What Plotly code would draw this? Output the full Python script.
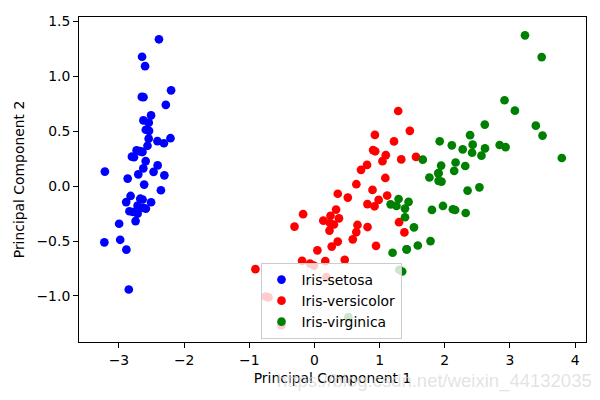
import plotly.graph_objects as go

setosa_x = [-2.684, -2.714, -2.889, -2.745, -2.729, -2.281, -2.821, -2.626, -2.886, -2.673,
            -2.507, -2.613, -2.786, -3.224, -2.645, -2.386, -2.624, -2.648, -2.200, -2.588,
            -2.310, -2.544, -3.216, -2.303, -2.356, -2.507, -2.469, -2.562, -2.640, -2.632,
            -2.587, -2.410, -2.649, -2.599, -2.637, -2.866, -2.625, -2.801, -2.981, -2.590,
            -2.770, -2.849, -2.997, -2.406, -2.209, -2.714, -2.538, -2.839, -2.543, -2.703]
setosa_y = [0.319, -0.177, -0.145, -0.318, 0.327, 0.741, -0.089, 0.163, -0.578, -0.114,
            0.645, 0.015, -0.235, -0.511, 1.179, 1.338, 0.811, 0.312, 0.873, 0.514,
            0.391, 0.433, 0.133, 0.099, -0.037, -0.146, 0.131, 0.368, 0.312, -0.197,
            -0.204, 0.411, 0.813, 1.093, -0.121, 0.069, 0.599, 0.269, -0.488, 0.229,
            0.264, -0.941, -0.342, 0.189, 0.437, -0.250, 0.504, -0.228, 0.579, 0.108]

versicolor_x = [1.285, 0.932, 1.464, 0.183, 1.088, 0.642, 1.095, -0.749, 1.044, -0.009,
                -0.508, 0.512, 0.265, 0.985, -0.174, 0.928, 0.660, 0.236, 0.945, 0.045,
                1.116, 0.358, 1.298, 0.922, 0.715, 0.900, 1.332, 1.558, 0.813, -0.306,
                -0.068, -0.190, 0.136, 1.380, 0.588, 0.807, 1.221, 0.815, 0.246, 0.166,
                0.465, 0.891, 0.231, -0.705, 0.357, 0.332, 0.376, 0.643, -0.906, 0.299]
versicolor_y = [0.685, 0.318, 0.504, -0.828, 0.075, -0.418, 0.283, -1.005, 0.228, -0.723,
                -1.266, -0.104, -0.550, -0.125, -0.255, 0.467, -0.353, -0.334, -0.543, -0.584,
                -0.085, -0.069, -0.328, -0.183, 0.149, 0.329, 0.244, 0.267, -0.163, -0.368,
                -0.705, -0.680, -0.314, -0.421, -0.484, 0.194, 0.408, -0.372, -0.269, -0.682,
                -0.671, -0.034, -0.404, -1.012, -0.505, -0.213, -0.293, 0.018, -0.756, -0.349]

virginica_x = [2.531, 1.415, 2.617, 1.972, 2.350, 3.397, 0.521, 2.933, 2.321, 2.917,
               1.662, 1.803, 2.166, 1.346, 1.586, 1.904, 1.950, 3.487, 3.796, 1.301,
               2.428, 1.199, 3.500, 1.389, 2.275, 2.614, 1.259, 1.291, 2.124, 2.388,
               2.842, 3.231, 2.159, 1.444, 1.781, 3.076, 2.144, 1.905, 1.169, 2.108,
               2.314, 1.922, 1.415, 2.563, 2.419, 1.944, 1.527, 1.764, 1.901, 1.390]
virginica_y = [-0.010, -0.575, 0.344, -0.180, -0.040, 0.551, -1.193, 0.356, -0.244, 0.783,
               0.242, -0.216, 0.216, -0.777, -0.540, 0.119, 0.042, 1.176, 0.257, -0.761,
               0.378, -0.606, 0.461, -0.204, 0.335, 0.561, -0.180, -0.117, -0.210, 0.465,
               0.375, 1.374, -0.217, -0.143, -0.500, 0.688, 0.140, 0.049, -0.165, 0.372,
               0.184, 0.409, -0.575, 0.278, 0.305, 0.188, -0.375, 0.079, 0.117, -0.283]

series = [
    ("Iris-setosa", setosa_x, setosa_y, "rgb(0,0,255)"),
    ("Iris-versicolor", versicolor_x, versicolor_y, "rgb(255,0,0)"),
    ("Iris-virginica", virginica_x, virginica_y, "rgb(0,128,0)"),
]

FONT = "DejaVu Sans"
fig = go.Figure()
for name, xs, ys, col in series:
    fig.add_trace(go.Scatter(x=xs, y=ys, mode="markers", name=name,
                             marker=dict(color=col, size=8.7, line=dict(width=0))))

axis_common = dict(showline=True, mirror=True, linecolor="black", linewidth=1,
                   ticks="outside", ticklen=5, tickwidth=1, tickcolor="black",
                   showgrid=False, zeroline=False,
                   tickfont=dict(family=FONT, size=13.9, color="black"))

fig.update_layout(
    width=600, height=400,
    margin=dict(l=78.5, r=14.3, t=17, b=58),
    paper_bgcolor="white", plot_bgcolor="white",
    font=dict(family=FONT, size=13.9, color="black"),
    xaxis=dict(range=[-3.613, 4.167], dtick=1, tick0=0,
               title=dict(text="Principal Component 1", standoff=6,
                          font=dict(family=FONT, size=13.9, color="black")),
               **axis_common),
    yaxis=dict(range=[-1.419, 1.541], dtick=0.5, tick0=0, tickformat=".1f",
               title=dict(text="Principal Component 2", standoff=8,
                          font=dict(family=FONT, size=13.9, color="black")),
               **axis_common),
    legend=dict(x=0.358, y=0.243, xanchor="left", yanchor="top",
                bgcolor="rgba(255,255,255,0.8)", bordercolor="#cccccc", borderwidth=1,
                font=dict(family=FONT, size=13.9, color="black")),
    showlegend=True,
)

fig.add_annotation(text="https://blog.csdn.net/weixin_44132035", xref="paper", yref="paper",
                   x=1.0, y=-0.12, xanchor="right", yanchor="middle", showarrow=False,
                   xshift=8,
                   font=dict(family="Liberation Sans", size=18.5, color="rgba(215,215,215,0.7)"))

fig.write_html("out.html")
